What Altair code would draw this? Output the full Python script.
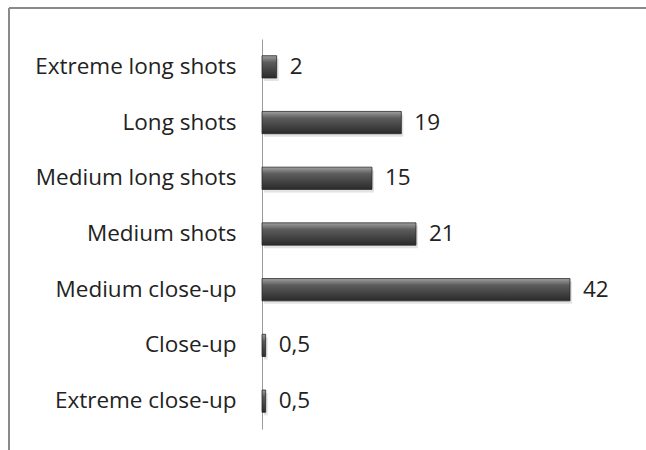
import altair as alt
import pandas as pd

categories = ["Extreme long shots", "Long shots", "Medium long shots", "Medium shots",
              "Medium close-up", "Close-up", "Extreme close-up"]
values = [2, 19, 15, 21, 42, 0.5, 0.5]
value_labels = ["2", "19", "15", "21", "42", "0,5", "0,5"]

df = pd.DataFrame({"cat": categories, "val": values, "lab": value_labels})

FONT = "Open Sans"
FS = 22.5

y = alt.Y("cat:N", sort=categories, title=None,
          scale=alt.Scale(paddingInner=0.6, paddingOuter=0.3),
          axis=alt.Axis(ticks=False, labelPadding=26, labelFontSize=FS, labelFont=FONT,
                        labelColor="#222", domainColor="#9a9a9a", domainWidth=1, labelLimit=300))
x = alt.X("val:Q", scale=alt.Scale(domain=[0, 45], nice=False), axis=None, title=None)

grad = alt.Gradient(gradient="linear", x1=0, y1=0, x2=0, y2=1,
                    stops=[alt.GradientStop(offset=0, color="#a0a0a0"),
                           alt.GradientStop(offset=0.3, color="#5c5c5c"),
                           alt.GradientStop(offset=0.75, color="#3c3c3c"),
                           alt.GradientStop(offset=1, color="#2a2a2a")])

shadow = alt.Chart(df).mark_bar(color="#d0d0d0", opacity=0.6, yOffset=3, xOffset=2).encode(x=x, y=y)
bars = alt.Chart(df).mark_bar(fill=grad, stroke="#2a2a2a", strokeWidth=0.8).encode(x=x, y=y)
text = alt.Chart(df).mark_text(align="left", dx=13, fontSize=FS, font=FONT, color="#222").encode(
    x=x, y=y, text="lab:N")

frame_top = alt.Chart(df).mark_rule(color="#8a8a8a", strokeWidth=1.5).encode(
    x=alt.value(-253), x2=alt.value(400), y=alt.value(-31))
frame_left = alt.Chart(df).mark_rule(color="#8a8a8a", strokeWidth=1.5).encode(
    x=alt.value(-253), y=alt.value(-31), y2=alt.value(450))

chart = alt.layer(frame_top, frame_left, shadow, bars, text).properties(
    width=330, height=390,
    autosize=alt.AutoSizeParams(type="none"),
    padding={"left": 262, "top": 39, "right": 54, "bottom": 21},
    background="white",
).configure_view(stroke=None)

chart.save("out.html", embed_options={"renderer": "svg", "actions": False})
